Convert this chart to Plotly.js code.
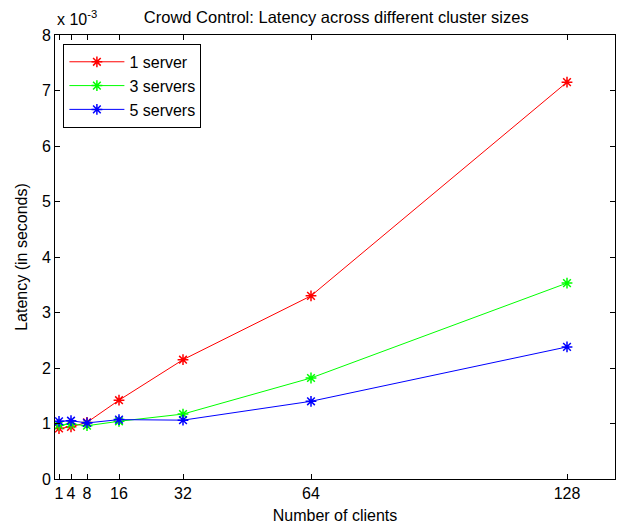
<!DOCTYPE html>
<html>
<head>
<meta charset="utf-8">
<script src="https://cdn.plot.ly/plotly-3.0.1.min.js"></script>
<style>html,body{margin:0;padding:0;background:#fff;}#chart{width:617px;height:527px;}</style>
</head>
<body>
<div id="chart"></div>
<script>
// Data (latency in seconds)
const clients = [1, 4, 8, 16, 32, 64, 128];
const oneServer = [0.00091, 0.00094, 0.00102, 0.00142, 0.00215, 0.00330, 0.00715];
const threeServers = [0.00097, 0.00099, 0.00096, 0.00104, 0.00117, 0.00182, 0.00353];
const fiveServers = [0.00104, 0.00105, 0.00101, 0.00107, 0.00106, 0.00140, 0.00238];
const seriesNames = ['1 server', '3 servers', '5 servers'];
const seriesColors = ['#ff0000', '#00ff00', '#0000ff'];
const xTickVals = [1, 4, 8, 16, 32, 64, 128];
const yScale = 1e3; // displayed as x 10^-3

const font = {family: 'Liberation Sans, Arial, sans-serif', size: 16, color: '#000'};
const all = [oneServer, threeServers, fiveServers];
const traces = all.map((s, i) => ({
  x: clients,
  y: s.map(v => v * yScale),
  name: seriesNames[i],
  legendgroup: 'g' + i,
  mode: 'lines+markers',
  type: 'scatter',
  line: {color: seriesColors[i], width: 1},
  marker: {symbol: 'asterisk-open', size: 9, color: seriesColors[i], line: {color: seriesColors[i], width: 1.5}}
}));

const layout = {
  width: 617, height: 527,
  margin: {l: 55, r: 2, t: 35, b: 48},
  paper_bgcolor: '#fff', plot_bgcolor: '#fff',
  font: font,
  title: {text: 'Crowd Control: Latency across different cluster sizes', font: {family: font.family, size: 16.5, color: '#000'}, x: 0.545, xanchor: 'center', y: 0.967, yanchor: 'middle'},
  xaxis: {
    range: [0, 140], tickvals: xTickVals, ticktext: xTickVals.map(String),
    ticks: 'inside', ticklen: 5, tickcolor: '#000', mirror: 'ticks', showline: true, linecolor: '#000', linewidth: 1,
    showgrid: false, zeroline: false, tickfont: font,
    title: {text: 'Number of clients', font: font, standoff: 8}
  },
  yaxis: {
    range: [0, 8], dtick: 1, tick0: 0,
    ticks: 'inside', ticklen: 5, tickcolor: '#000', mirror: 'ticks', showline: true, linecolor: '#000', linewidth: 1,
    showgrid: false, zeroline: false, tickfont: font,
    title: {text: 'Latency (in seconds)', font: font, standoff: 10}
  },
  legend: {
    x: 0.015, y: 0.98, xanchor: 'left', yanchor: 'top',
    bgcolor: '#fff', bordercolor: '#000', borderwidth: 1,
    font: font, tracegroupgap: 0, itemwidth: 55
  },
  annotations: [{
    text: 'x 10<sup>-3</sup>', xref: 'paper', yref: 'paper', x: 0, y: 1, xanchor: 'left', yanchor: 'bottom',
    yshift: 5, showarrow: false, font: font
  }],
  showlegend: true
};

Plotly.newPlot('chart', traces, layout, {staticPlot: true});
</script>
</body>
</html>
